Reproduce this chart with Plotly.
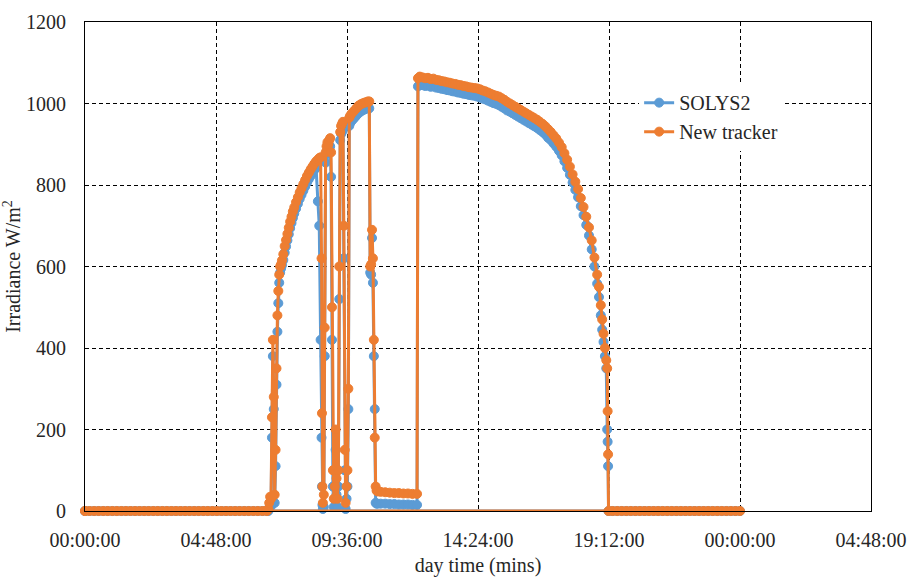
import plotly.graph_objects as go

# time of day in minutes (shared by both instruments); last record wraps to 00:00:00
minutes = [
    0, 10, 20, 30, 40, 50, 60, 70, 80, 90, 100, 110, 120, 130, 140, 150, 160, 170, 180, 190,
    200, 210, 220, 230, 240, 250, 260, 270, 280, 290, 300, 310, 320, 330, 340, 350, 360, 370, 380, 390, 400,
    403, 405, 407, 409, 411, 413, 415, 417, 419, 421, 423, 425, 427, 429, 431, 433, 436, 439, 442, 445,
    448, 451, 454, 457, 460, 464, 468, 472, 476, 480, 484, 488, 492, 496, 500, 504, 508, 512, 515, 518,
    520, 521, 522, 523, 525, 527, 529, 531, 533, 535, 537, 539, 541, 543, 545, 547, 549, 551, 553, 555,
    557, 559, 561, 563, 565, 567, 569, 571, 573, 575, 577, 579, 581, 583, 586, 590, 594, 598, 602, 606,
    610, 614, 618, 622, 625, 627, 629, 631, 633, 635, 637, 639, 641, 643,
    650, 660, 670, 680, 690, 700, 710, 720, 730,
    732, 736, 742, 748, 754, 760, 766, 772, 778, 784, 790, 796, 802, 808, 814, 820, 826, 832, 838, 844,
    850, 856, 862, 868, 874, 880, 886, 892, 898, 904, 910, 916, 922, 928, 934, 940, 946, 952, 958, 964,
    970, 976, 982, 988, 994, 1000, 1006, 1012, 1018, 1024, 1030, 1036, 1042, 1048, 1054, 1060, 1066, 1072, 1078, 1084,
    1090, 1096, 1102, 1108, 1114, 1120, 1126, 1130, 1134, 1137, 1140, 1143, 1146, 1148, 1149, 1150, 1151,
    1160, 1170, 1180, 1190, 1200, 1210, 1220, 1230, 1240, 1250, 1260, 1270, 1280, 1290, 1300, 1310, 1320,
    1330, 1340, 1350, 1360, 1370, 1380, 1390, 1400, 1410, 1420, 1430, 1440,
    0,
]

solys2 = [
    0, 0, 0, 0, 0, 0, 0, 0, 0, 0, 0, 0, 0, 0, 0, 0, 0, 0, 0, 0,
    0, 0, 0, 0, 0, 0, 0, 0, 0, 0, 0, 0, 0, 0, 0, 0, 0, 0, 0, 0, 0,
    0, 8, 15, 12, 180, 380, 250, 20, 110, 310, 440, 510, 560, 585, 595, 603, 616, 634, 649, 664,
    679, 694, 707, 719, 730, 742, 754, 766, 776, 786, 796, 806, 814, 822, 830, 837, 842, 760, 700, 420,
    180, 60, 15, 5, 10, 380, 855, 875, 885, 883, 890, 895, 820, 420, 60, 10, 30, 150, 40, 10,
    60, 520, 910, 925, 930, 935, 620, 100, 5, 30, 60, 250, 945, 952, 957, 962, 967, 972, 977, 980,
    983, 985, 987, 989, 988, 585, 580, 670, 560, 380, 250, 20, 18, 18,
    18, 18, 17, 17, 16, 16, 16, 15, 15,
    1042, 1046, 1045, 1043, 1044, 1041, 1042, 1039, 1038, 1036, 1035, 1033, 1032, 1030, 1029, 1027, 1026, 1024, 1023, 1021,
    1020, 1019, 1017, 1015, 1012, 1010, 1007, 1004, 1001, 999, 996, 992, 988, 983, 980, 976, 972, 968, 964, 960,
    956, 952, 948, 944, 940, 935, 930, 924, 916, 910, 902, 894, 884, 873, 858, 842, 825, 806, 788, 770,
    748, 726, 702, 676, 642, 600, 558, 525, 480, 445, 415, 380, 350, 200, 170, 110, 0,
    0, 0, 0, 0, 0, 0, 0, 0, 0, 0, 0, 0, 0, 0, 0, 0, 0,
    0, 0, 0, 0, 0, 0, 0, 0, 0, 0, 0, 0,
    0,
]

new_tracker = [
    0, 0, 0, 0, 0, 0, 0, 0, 0, 0, 0, 0, 0, 0, 0, 0, 0, 0, 0, 0,
    0, 0, 0, 0, 0, 0, 0, 0, 0, 0, 0, 0, 0, 0, 0, 0, 0, 0, 0, 0, 0,
    5, 20, 35, 30, 230, 420, 280, 40, 150, 350, 480, 540, 580, 600, 605, 615, 630, 650, 665, 680,
    695, 710, 722, 735, 745, 758, 770, 782, 792, 802, 812, 822, 830, 838, 845, 852, 858, 862, 866, 868,
    620, 240, 60, 20, 40, 450, 880, 895, 905, 900, 910, 915, 880, 500, 100, 30, 60, 200, 80, 30,
    100, 600, 930, 945, 950, 955, 700, 150, 20, 60, 100, 300, 965, 970, 975, 980, 985, 990, 995, 998,
    1000, 1002, 1003, 1005, 1005, 600, 605, 690, 620, 420, 180, 60, 50, 48,
    47, 46, 45, 44, 44, 43, 43, 42, 42,
    1062, 1066, 1064, 1062, 1063, 1060, 1061, 1058, 1057, 1055, 1054, 1052, 1051, 1049, 1048, 1046, 1045, 1043, 1042, 1040,
    1039, 1038, 1037, 1035, 1032, 1030, 1027, 1024, 1021, 1019, 1017, 1013, 1009, 1004, 1000, 996, 992, 988, 984, 980,
    976, 972, 968, 964, 960, 955, 950, 944, 937, 930, 922, 914, 904, 893, 878, 862, 845, 826, 808, 790,
    768, 746, 722, 696, 664, 622, 580, 550, 505, 470, 435, 400, 370, 350, 245, 139, 0,
    0, 0, 0, 0, 0, 0, 0, 0, 0, 0, 0, 0, 0, 0, 0, 0, 0,
    0, 0, 0, 0, 0, 0, 0, 0, 0, 0, 0, 0,
    0,
]

assert len(minutes) == len(solys2) == len(new_tracker), (len(minutes), len(solys2), len(new_tracker))

x_tick_vals = [0, 288, 576, 864, 1152, 1440, 1728]
x_tick_text = ["00:00:00", "04:48:00", "09:36:00", "14:24:00", "19:12:00", "00:00:00", "04:48:00"]
y_tick_vals = [0, 200, 400, 600, 800, 1000, 1200]

FONT = "Liberation Serif"
TXT = "#262626"
FS = 20

fig = go.Figure()
fig.add_trace(go.Scatter(
    x=minutes, y=solys2, name="SOLYS2", mode="lines+markers", cliponaxis=False,
    line=dict(color="#5B9BD5", width=3),
    marker=dict(color="#5B9BD5", size=9, line=dict(color="#5B9BD5", width=1)),
))
fig.add_trace(go.Scatter(
    x=minutes, y=new_tracker, name="New tracker", mode="lines+markers", cliponaxis=False,
    line=dict(color="#ED7D31", width=3),
    marker=dict(color="#ED7D31", size=9, line=dict(color="#ED7D31", width=1)),
))

fig.update_layout(
    width=912, height=579,
    margin=dict(l=85, r=41, t=22, b=68, autoexpand=False),
    paper_bgcolor="white", plot_bgcolor="white",
    font=dict(family=FONT, size=FS, color=TXT),
    showlegend=True,
    legend=dict(
        x=0.705, y=0.875, xanchor="left", yanchor="top",
        bgcolor="white", font=dict(family=FONT, size=FS, color=TXT),
        tracegroupgap=0, itemwidth=30,
    ),
)
fig.update_xaxes(
    range=[0, 1728], tickvals=x_tick_vals, ticktext=x_tick_text,
    showgrid=True, gridcolor="black", gridwidth=1, griddash="4px,3px",
    showline=True, linecolor="black", linewidth=1, mirror=True,
    zeroline=False, ticks="", ticklabelstandoff=11,
    tickfont=dict(family=FONT, size=FS, color=TXT),
    title=dict(text="day time (mins)", font=dict(family=FONT, size=FS, color=TXT), standoff=7),
    automargin=False,
)
fig.update_yaxes(
    range=[0, 1200], tickvals=y_tick_vals,
    showgrid=True, gridcolor="black", gridwidth=1, griddash="4px,3px",
    showline=True, linecolor="black", linewidth=1, mirror=True,
    zeroline=False, ticks="", ticklabelstandoff=14,
    tickfont=dict(family=FONT, size=FS, color=TXT),
    title=dict(text="Irradiance W/m<sup>2</sup>", font=dict(family=FONT, size=FS, color=TXT), standoff=6),
    automargin=False,
)

fig.write_html("out.html")
